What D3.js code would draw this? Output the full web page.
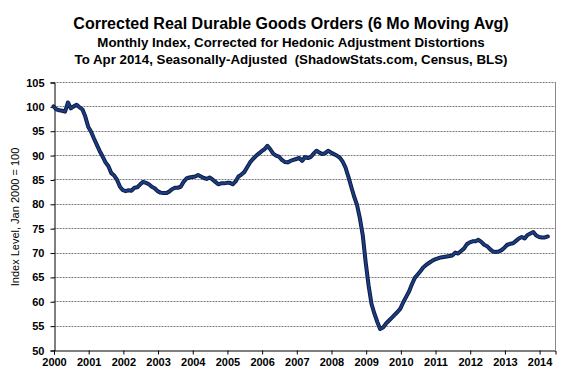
<!DOCTYPE html>
<html><head><meta charset="utf-8">
<script src="https://cdn.jsdelivr.net/npm/d3@7"></script>
<style>html,body{margin:0;padding:0;background:#fff;}svg{display:block;}</style>
</head><body>
<svg id="chart" width="575" height="386"></svg>
<script>
const titleLines = [
  "Corrected Real Durable Goods Orders (6 Mo Moving Avg)",
  "Monthly Index, Corrected for Hedonic Adjustment Distortions",
  "To Apr 2014, Seasonally-Adjusted  (ShadowStats.com, Census, BLS)"
];
const yAxisTitle = "Index Level, Jan 2000 = 100";
const yearLabels = ["2000","2001","2002","2003","2004","2005","2006","2007","2008","2009","2010","2011","2012","2013","2014"];
const yTicks = [50,55,60,65,70,75,80,85,90,95,100,105];
// monthly values, Jan 2000 .. Apr 2014
const indexValues = [
  100.0, 99.4, 99.2, 99.1, 98.9,100.8, 99.6,100.0,100.3, 99.8, 99.4, 97.9,
   95.8, 94.8, 93.4, 92.1, 90.8, 89.7, 88.5, 87.7, 86.3, 85.8, 84.9, 83.5,
   82.8, 82.6, 82.8, 82.7, 83.3, 83.4, 84.0, 84.5, 84.3, 84.0, 83.5, 83.2,
   82.6, 82.3, 82.2, 82.2, 82.5, 83.0, 83.3, 83.3, 83.5, 84.5, 85.2, 85.4,
   85.5, 85.6, 85.9, 85.6, 85.3, 85.1, 85.4, 85.0, 84.5, 84.0, 84.2, 84.2,
   84.3, 84.3, 84.0, 84.6, 85.6, 86.0, 86.5, 87.5, 88.5, 89.2, 89.8, 90.3,
   90.8, 91.2, 91.9, 91.2, 90.3, 89.9, 89.7, 89.0, 88.6, 88.5, 88.8, 89.0,
   89.2, 89.4, 88.8, 89.6, 89.4, 89.6, 90.3, 90.9, 90.5, 90.2, 90.4, 90.9,
   90.5, 90.2, 89.9, 89.5, 88.7, 87.5, 85.6, 83.5, 81.5, 79.8, 77.0, 73.5,
   68.0, 63.3, 59.5, 57.5, 55.8, 54.3, 54.6, 55.4, 56.0, 56.6, 57.2, 57.8,
   58.5, 59.8, 60.9, 62.0, 63.5, 64.8, 65.5, 66.2, 67.0, 67.5, 67.9, 68.3,
   68.6, 68.8, 69.0, 69.1, 69.2, 69.3, 69.4, 70.0, 69.8, 70.3, 70.8, 71.7,
   72.1, 72.3, 72.3, 72.6, 72.2, 71.6, 71.3, 70.7, 70.2, 70.1, 70.2, 70.5,
   71.0, 71.6, 71.8, 71.9, 72.4, 72.9, 73.2, 72.9, 73.6, 73.9, 74.2, 73.5,
   73.2, 73.1, 73.1, 73.3
];

const svg = d3.select("#chart");
const font = "'Liberation Sans', Arial, sans-serif";
const plotL = 53.5, plotR = 555, plotT = 82, plotB = 350;

const x = d3.scaleLinear().domain([0, 173.5]).range([plotL, plotR]);
const y = d3.scaleLinear().domain([50, 105]).range([plotB, plotT]);

// titles
const tSizes = [16, 13.3, 13.3], tY = [29, 46.5, 64];
titleLines.forEach((t, i) => {
  svg.append("text").attr("x", 291).attr("y", tY[i]).attr("text-anchor", "middle")
    .attr("font-family", font).attr("font-weight", "bold").attr("font-size", tSizes[i])
    .attr("fill", "#000").style("white-space", "pre").text(t);
});

// gridlines
svg.append("g").selectAll("line").data(yTicks.filter(v => v > 50)).join("line")
  .attr("x1", plotL).attr("x2", plotR)
  .attr("y1", d => Math.round(y(d)) + 0.5).attr("y2", d => Math.round(y(d)) + 0.5)
  .attr("stroke", "#7a7a7a").attr("stroke-width", 1).attr("stroke-dasharray", "2,1");

// right border
svg.append("line").attr("x1", plotR + 0.5).attr("x2", plotR + 0.5).attr("y1", plotT).attr("y2", plotB)
  .attr("stroke", "#8a8a8a").attr("stroke-width", 1);

// y axis
const yAxis = d3.axisLeft(y).tickValues(yTicks).tickSize(4).tickPadding(6).tickFormat(d3.format("d"));
const gy = svg.append("g").attr("transform", `translate(${Math.round(plotL) + 0.5},0.5)`).call(yAxis);
gy.select(".domain").attr("stroke", "#000");
gy.selectAll(".tick line").attr("stroke", "#000");
gy.selectAll("text").attr("font-family", font).attr("font-weight", "bold").attr("font-size", 11).attr("fill", "#000");

// x axis
const xAxis = d3.axisBottom(x).tickValues(yearLabels.map((d, i) => i * 12)).tickSize(4).tickPadding(4)
  .tickFormat((d, i) => yearLabels[i]);
const gx = svg.append("g").attr("transform", `translate(0.5,${Math.round(plotB) + 0.5})`).call(xAxis);
gx.select(".domain").attr("stroke", "#000");
gx.selectAll(".tick line").attr("stroke", "#000");
gx.selectAll("text").attr("font-family", font).attr("font-weight", "bold").attr("font-size", 11).attr("fill", "#000");

// y axis title
svg.append("text").attr("transform", `translate(19,${(plotT + plotB) / 2 + 1}) rotate(-90)`)
  .attr("text-anchor", "middle").attr("font-family", font).attr("font-size", 11).attr("fill", "#000")
  .text(yAxisTitle);

// line
const line = d3.line().x((d, i) => x(i)).y(d => y(d)).curve(d3.curveLinear);
svg.append("path").datum(indexValues).attr("d", line).attr("fill", "none")
  .attr("stroke", "#0a1a40").attr("stroke-width", 4).attr("stroke-linejoin", "round").attr("stroke-linecap", "round");
svg.append("path").datum(indexValues).attr("d", line).attr("fill", "none")
  .attr("stroke", "#1c3b80").attr("stroke-width", 2.2).attr("stroke-linejoin", "round").attr("stroke-linecap", "round");
</script>
</body></html>
